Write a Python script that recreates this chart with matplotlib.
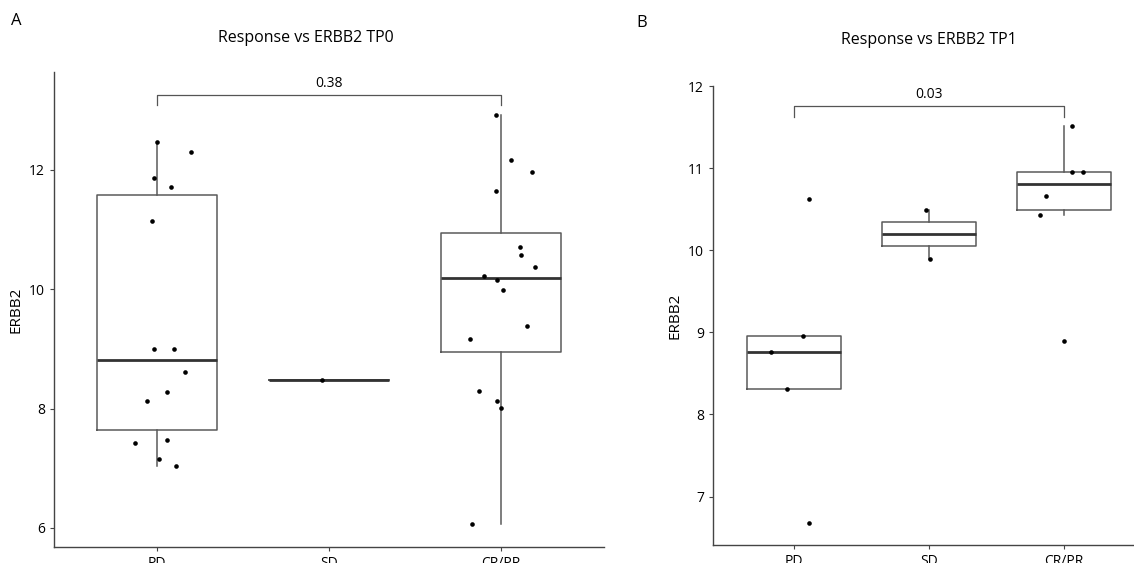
import matplotlib
matplotlib.use("Agg")
import matplotlib.pyplot as plt

plt.rcParams['font.family'] = ['Open Sans', 'DejaVu Sans']

groups = ['PD', 'SD', 'CR/PR']

# TP0 values per response group, with the horizontal jitter
tp0_pd = [12.46, 12.30, 11.87, 11.72, 11.14, 9.00, 9.00, 8.62, 8.27, 8.13, 7.42, 7.48, 7.15, 7.03]
tp0_pd_jit = [0.00, 0.20, -0.02, 0.08, -0.03, -0.02, 0.10, 0.16, 0.06, -0.06, -0.13, 0.06, 0.01, 0.11]
tp0_sd = [8.48]
tp0_sd_jit = [-0.04]
tp0_cr = [12.92, 12.16, 11.97, 11.65, 10.71, 10.58, 10.37, 10.22, 10.15, 9.99, 9.38, 9.17, 8.30, 8.13, 8.01, 6.07]
tp0_cr_jit = [-0.03, 0.06, 0.18, -0.03, 0.11, 0.12, 0.20, -0.10, -0.02, 0.01, 0.15, -0.18, -0.13, -0.02, 0.00, -0.17]

# TP1 values
tp1_pd = [10.63, 8.95, 8.76, 8.31, 6.68]
tp1_pd_jit = [0.11, 0.07, -0.17, -0.05, 0.11]
tp1_sd = [10.49, 9.90]
tp1_sd_jit = [-0.02, 0.01]
tp1_cr = [11.52, 10.95, 10.96, 10.66, 10.43, 8.89]
tp1_cr_jit = [0.06, 0.06, 0.14, -0.13, -0.18, 0.00]

p_tp0 = '0.38'
p_tp1 = '0.03'

BOX_COL = '#5a5a5a'
MED_COL = '#333333'


def draw_panel(ax, data, jitter, pval, bracket_y, bracket_drop, ylim, yticks):
    pos = [1, 2, 3]
    ax.boxplot(data, positions=pos, widths=0.7, whis=1.5, showfliers=False,
               showcaps=False,
               boxprops=dict(color=BOX_COL, linewidth=1.1),
               whiskerprops=dict(color=BOX_COL, linewidth=1.1),
               medianprops=dict(color=MED_COL, linewidth=2.0))
    for p, vals, jit in zip(pos, data, jitter):
        xs = [p + j for j in jit]
        ax.scatter(xs, vals, s=11, color='black', zorder=3, linewidths=0)

    # comparison bracket PD vs CR/PR
    ax.plot([1, 1, 3, 3], [bracket_y - bracket_drop, bracket_y, bracket_y, bracket_y - bracket_drop],
            color='#555555', linewidth=0.9, clip_on=False)
    ax.annotate(pval, xy=(2, bracket_y), xytext=(0, 3), textcoords='offset points',
                ha='center', va='bottom', fontsize=10)

    ax.set_xlim(0.4, 3.6)
    ax.set_ylim(*ylim)
    ax.set_xticks(pos)
    ax.set_xticklabels(groups)
    ax.set_yticks(yticks)
    ax.set_ylabel('ERBB2', fontsize=11)
    for s in ['top', 'right']:
        ax.spines[s].set_visible(False)
    for s in ['left', 'bottom']:
        ax.spines[s].set_color('#444444')
        ax.spines[s].set_linewidth(1.0)
    ax.tick_params(length=3, width=0.8, color='#444444', labelsize=10, labelcolor='black')


fig = plt.figure(figsize=(11.34, 5.63), dpi=100)

ax1 = fig.add_axes([0.0476, 0.0284, 0.485, 0.8437])
draw_panel(ax1, [tp0_pd, tp0_sd, tp0_cr], [tp0_pd_jit, tp0_sd_jit, tp0_cr_jit],
           p_tp0, 13.25, 0.17, (5.68, 13.64), [6, 8, 10, 12])

ax2 = fig.add_axes([0.6287, 0.032, 0.381, 0.815])
draw_panel(ax2, [tp1_pd, tp1_sd, tp1_cr], [tp1_pd_jit, tp1_sd_jit, tp1_cr_jit],
           p_tp1, 11.755, 0.13, (6.41, 12.0), [7, 8, 9, 10, 11, 12])

# titles sit over the whole panel, not just the plot area
fig.text(0.270, 0.932, 'Response vs ERBB2 TP0', ha='center', va='center', fontsize=11.5)
fig.text(0.819, 0.929, 'Response vs ERBB2 TP1', ha='center', va='center', fontsize=11.5)

fig.text(0.0097, 0.962, 'A', fontsize=12, va='center')
fig.text(0.5615, 0.959, 'B', fontsize=12, va='center')

fig.savefig('out.png', dpi=100)
